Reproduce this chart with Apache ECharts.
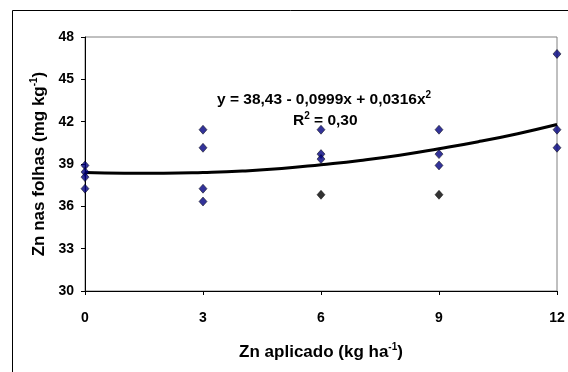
<!DOCTYPE html>
<html>
<head>
<meta charset="utf-8">
<script src="https://cdn.jsdelivr.net/npm/echarts@6/dist/echarts.min.js"></script>
<style>
  html, body { margin: 0; padding: 0; background: #fff; }
  #chart { width: 568px; height: 372px; }
</style>
</head>
<body>
<div id="chart"></div>
<script>
// pontos observados (x = Zn aplicado, y = Zn nas folhas)
const pontos = [
  [0, 38.9], [0, 38.43], [0, 38.07], [0, 37.25],
  [3, 41.43], [3, 40.15], [3, 37.25], [3, 36.34],
  [6, 41.43], [6, 39.7], [6, 39.35],
  [9, 41.43], [9, 39.7], [9, 38.9],
  [12, 46.8], [12, 41.43], [12, 40.15]
];
// pontos em preto
const pontosPretos = [[6, 36.82], [9, 36.82]];
// curva
const curvaX = [0, 1, 2, 3, 4, 5, 6, 7, 8, 9, 10, 11, 12];
const curvaY = [38.4, 38.35, 38.35, 38.4, 38.5, 38.68, 38.95, 39.25, 39.62, 40.08, 40.58, 41.15, 41.8];
const yTicks = [30, 33, 36, 39, 42, 45, 48];

const fonte = "'Liberation Sans', Arial, sans-serif";
const chart = echarts.init(document.getElementById("chart"));

// estilos de texto com expoente
const rico = (tam, alt) => ({
  a: { fontFamily: fonte, fontWeight: "bold", fontSize: tam, color: "#000", fill: "#000", lineHeight: alt },
  s: { fontFamily: fonte, fontWeight: "bold", fontSize: 10, color: "#000", fill: "#000", verticalAlign: "top", lineHeight: alt }
});

chart.setOption({
  animation: false,
  backgroundColor: "#fff",
  grid: {
    left: 85, top: 37, width: 472, height: 254,
    show: true, borderColor: "#808080", borderWidth: 1
  },
  xAxis: {
    type: "value", min: 0, max: 12, interval: 3,
    axisLine: { lineStyle: { color: "#000", width: 1 } },
    axisTick: { show: true, length: 4, lineStyle: { color: "#000" } },
    splitLine: { show: false },
    axisLabel: {
      margin: 20, color: "#000", fontFamily: fonte, fontWeight: "bold", fontSize: 14,
      showMaxLabel: true, showMinLabel: true
    },
    name: "{a|Zn aplicado (kg ha}{s|-1}{a|)}",
    nameLocation: "middle", nameGap: 51,
    nameTextStyle: { rich: rico(17, 20) }
  },
  yAxis: {
    type: "value", min: yTicks[0], max: yTicks[yTicks.length - 1], interval: 3,
    axisLine: { show: true, lineStyle: { color: "#000", width: 1 } },
    axisTick: { show: true, length: 4, lineStyle: { color: "#000" } },
    splitLine: { show: false },
    axisLabel: { margin: 11, color: "#000", fontFamily: fonte, fontWeight: "bold", fontSize: 14 },
    name: "{a|Zn nas folhas (mg kg}{s|-1}{a|)}",
    nameLocation: "middle", nameGap: 35,
    nameTextStyle: { rich: rico(17, 20) }
  },
  series: [
    {
      type: "line",
      data: curvaX.map((x, i) => [x, curvaY[i]]),
      smooth: true, showSymbol: false, symbol: "none",
      lineStyle: { color: "#000", width: 3 },
      z: 2
    },
    {
      type: "scatter",
      data: pontos,
      symbol: "diamond", symbolSize: [8, 9],
      itemStyle: { color: "#000080", borderColor: "#000", borderWidth: 0.6 },
      z: 3
    },
    {
      type: "scatter",
      data: pontosPretos,
      symbol: "diamond", symbolSize: [8, 9],
      itemStyle: { color: "#000", borderColor: "#000", borderWidth: 0.6 },
      z: 3
    }
  ],
  graphic: [
    {
      type: "rect", silent: true,
      shape: { x: 12.5, y: 10.5, width: 600, height: 400 },
      style: { fill: null, stroke: "#000", lineWidth: 1 }
    },
    {
      type: "text", left: 217, top: 90, z: 10,
      style: { text: "{a|y = 38,43 - 0,0999x + 0,0316x}{s|2}", rich: rico(15.5, 20) }
    },
    {
      type: "text", left: 293, top: 111, z: 10,
      style: { text: "{a|R}{s|2}{a| = 0,30}", rich: rico(15.5, 20) }
    }
  ]
});
</script>
</body>
</html>
